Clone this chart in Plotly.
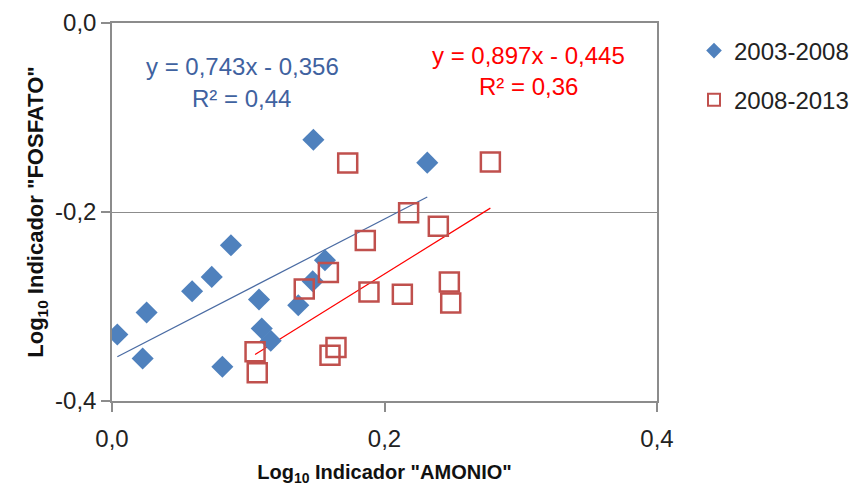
import plotly.graph_objects as go

# Series 2003-2008 (blue diamonds)
x_0308 = [0.0039, 0.0254, 0.0225, 0.0588, 0.0732, 0.0873, 0.0810, 0.1079,
          0.1099, 0.1165, 0.1367, 0.1473, 0.1563, 0.1478, 0.2314]
y_0308 = [-0.3296, -0.3063, -0.3550, -0.2838, -0.2687, -0.2352, -0.3638, -0.2926,
          -0.3233, -0.3363, -0.2986, -0.2733, -0.2510, -0.1235, -0.1478]

# Series 2008-2013 (red squares)
x_0813 = [0.1730, 0.2777, 0.2177, 0.2395, 0.1859, 0.1588, 0.1411, 0.1886,
          0.2131, 0.2476, 0.2486, 0.1644, 0.1600, 0.1050, 0.1066]
y_0813 = [-0.1482, -0.1471, -0.2007, -0.2151, -0.2302, -0.2641, -0.2814, -0.2846,
          -0.2870, -0.2740, -0.2962, -0.3433, -0.3515, -0.3480, -0.3702]

# Trendline coefficients (as printed on the chart)
slope_0308, intercept_0308, r2_0308 = 0.743, -0.356, 0.44
slope_0813, intercept_0813, r2_0813 = 0.897, -0.445, 0.36

x_ticks = [0.0, 0.2, 0.4]
x_ticklabels = ["0,0", "0,2", "0,4"]
y_ticks = [-0.4, -0.2, 0.0]
y_ticklabels = ["-0,4", "-0,2", "0,0"]

FONT = "Liberation Sans"
BLUE = "#4F81BD"
RED = "#C0504D"
BLUE_LINE = "#4A6BA3"
BLUE_TEXT = "#3F62A0"
GRAY = "#8C8C8C"

L, R, T, B = 112, 193, 22.5, 87
PW, PH = 850 - L - R, 488 - T - B


def fmt(v):
    return f"{abs(v):.3f}".replace(".", ",")


fig = go.Figure()

# trendlines over each series' x span
tx1 = [min(x_0308), max(x_0308)]
ty1 = [slope_0308 * v + intercept_0308 for v in tx1]
tx2 = [min(x_0813), max(x_0813)]
ty2 = [slope_0813 * v + intercept_0813 for v in tx2]

fig.add_trace(go.Scatter(x=tx1, y=ty1, mode="lines", showlegend=False,
                         line=dict(color=BLUE_LINE, width=1.2), hoverinfo="skip"))
fig.add_trace(go.Scatter(x=tx2, y=ty2, mode="lines", showlegend=False,
                         line=dict(color="#FF0000", width=1.2), hoverinfo="skip"))

fig.add_trace(go.Scatter(x=x_0308, y=y_0308, mode="markers", name="2003-2008",
                         legendgroup="a",
                         marker=dict(symbol="diamond", size=17, color=BLUE,
                                     line=dict(width=0))))
fig.add_trace(go.Scatter(x=x_0813, y=y_0813, mode="markers", name="2008-2013",
                         legendgroup="b",
                         marker=dict(symbol="square-open", size=19, color=RED,
                                     line=dict(width=2.5, color=RED))))


def add_label(px, py, text, color):
    fig.add_annotation(
        x=(px - L) / PW, y=1 - (py - T) / PH,
        xref="x domain", yref="y domain", text=text, showarrow=False,
        font=dict(family=FONT, size=24, color=color),
        xanchor="center", yanchor="middle")


add_label(242, 66, f"y = {fmt(slope_0308)}x - {fmt(intercept_0308)}", BLUE_TEXT)
add_label(241, 98, f"R² = {r2_0308:.2f}".replace(".", ","), BLUE_TEXT)
add_label(528, 55, f"y = {fmt(slope_0813)}x - {fmt(intercept_0813)}", "#FF0000")
add_label(528, 86, f"R² = {r2_0813:.2f}".replace(".", ","), "#FF0000")

fig.update_layout(
    width=850, height=488,
    margin=dict(l=L, r=R, t=T, b=B, autoexpand=False),
    paper_bgcolor="white", plot_bgcolor="white",
    font=dict(family=FONT, size=24, color="#222222"),
    legend=dict(x=(694 - L) / PW, y=1 - (28 - T) / PH, xanchor="left", yanchor="top",
                font=dict(family=FONT, size=24, color="#222222"),
                itemsizing="constant", traceorder="grouped", tracegroupgap=15,
                bgcolor="rgba(0,0,0,0)"),
    xaxis=dict(range=[0, 0.4], tickvals=x_ticks, ticktext=x_ticklabels,
               showgrid=False, zeroline=False, showline=True, linecolor=GRAY,
               linewidth=1.5, mirror=True, ticks="outside", ticklen=9,
               tickcolor=GRAY, tickwidth=1.5, ticklabelstandoff=6,
               title=dict(text='Log<sub>10</sub> Indicador "AMONIO"',
                          font=dict(family=FONT, size=20, color="#111111",
                                    weight="bold"), standoff=14)),
    yaxis=dict(range=[-0.4, 0], tickvals=y_ticks, ticktext=y_ticklabels,
               showgrid=True, gridcolor=GRAY, gridwidth=1.3, zeroline=False,
               showline=True, linecolor=GRAY, linewidth=1.5, mirror=True,
               ticks="outside", ticklen=9, tickcolor=GRAY, tickwidth=1.5,
               title=dict(text='Log<sub>10</sub> Indicador "FOSFATO"',
                          font=dict(family=FONT, size=22, color="#111111",
                                    weight="bold"), standoff=5)),
)

fig.write_html("out.html", config={"displayModeBar": False},
               post_script="document.body.style.margin='0px';")
